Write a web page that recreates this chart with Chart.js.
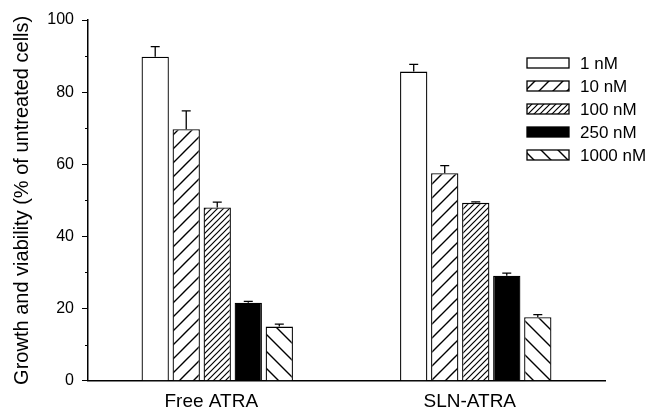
<!DOCTYPE html>
<html>
<head>
<meta charset="utf-8">
<script src="https://cdn.jsdelivr.net/npm/chart.js@4.4.1/dist/chart.umd.min.js"></script>
<style>
  html, body { margin: 0; padding: 0; background: #fff; }
  #c { display: block; }
</style>
</head>
<body>
<canvas id="c" width="651" height="410"></canvas>
<script>
// Growth and viability after ATRA treatment, free drug vs. SLN formulation
const categories = ['Free ATRA', 'SLN-ATRA'];
const doseLabels = ['1 nM', '10 nM', '100 nM', '250 nM', '1000 nM'];

const dose1 = [89.8, 85.7];
const dose10 = [69.7, 57.5];
const dose100 = [48.0, 49.3];
const dose250 = [21.6, 29.1];
const dose1000 = [15.0, 17.6];

// upper error (SD) for each bar
const err1 = [2.8, 2.0];
const err10 = [5.1, 2.1];
const err100 = [1.5, 0.3];
const err250 = [0.4, 0.7];
const err1000 = [0.7, 0.7];

const yMajorTicks = [0, 20, 40, 60, 80, 100];
const yMinorTicks = [10, 30, 50, 70, 90];

const FONT = '"Liberation Sans", Arial, Helvetica, sans-serif';

// diagonal hatch fill: dir = 1 for "/", -1 for "\"
function hatch(step, dir, lw) {
  const t = document.createElement('canvas');
  t.width = step; t.height = step;
  const g = t.getContext('2d');
  g.fillStyle = '#fff';
  g.fillRect(0, 0, step, step);
  g.strokeStyle = '#000';
  g.lineWidth = lw;
  g.beginPath();
  if (dir > 0) {
    g.moveTo(-step, step); g.lineTo(step, -step);
    g.moveTo(0, step * 2); g.lineTo(step * 2, 0);
    g.moveTo(0, step); g.lineTo(step, 0);
  } else {
    g.moveTo(-step, 0); g.lineTo(step, step * 2);
    g.moveTo(0, -step); g.lineTo(step * 2, step);
    g.moveTo(0, 0); g.lineTo(step, step);
  }
  g.stroke();
  return g.createPattern(t, 'repeat');
}

const fills = ['#ffffff', hatch(14, 1, 1.4), hatch(6, 1, 1.2), '#000000', hatch(17, -1, 1.4)];
const values = [dose1, dose10, dose100, dose250, dose1000];
const errors = [err1, err10, err100, err250, err1000];

const datasets = doseLabels.map((lab, i) => ({
  label: lab,
  data: values[i],
  err: errors[i],
  backgroundColor: fills[i],
  borderColor: '#000',
  borderWidth: 1.3,
  categoryPercentage: 0.6,
  barPercentage: 0.88
}));

// upward-only error bars with a short cap
const errorBars = {
  id: 'errorBars',
  afterDatasetsDraw(chart) {
    const ctx = chart.ctx;
    const ys = chart.scales.y;
    ctx.save();
    ctx.strokeStyle = '#000';
    ctx.lineWidth = 1.3;
    chart.data.datasets.forEach((ds, di) => {
      const meta = chart.getDatasetMeta(di);
      meta.data.forEach((bar, j) => {
        const top = ys.getPixelForValue(ds.data[j] + ds.err[j]);
        ctx.beginPath();
        ctx.moveTo(bar.x, bar.y);
        ctx.lineTo(bar.x, top);
        ctx.moveTo(bar.x - 4.5, top);
        ctx.lineTo(bar.x + 4.5, top);
        ctx.stroke();
      });
    });
    ctx.restore();
  }
};

// short minor ticks on the value axis
const minorTicks = {
  id: 'minorTicks',
  afterDraw(chart) {
    const ctx = chart.ctx;
    const ys = chart.scales.y;
    const x0 = chart.chartArea.left;
    ctx.save();
    ctx.strokeStyle = '#000';
    ctx.lineWidth = 1;
    yMinorTicks.forEach(v => {
      const y = Math.round(ys.getPixelForValue(v)) + 0.5;
      ctx.beginPath();
      ctx.moveTo(x0 - 3, y);
      ctx.lineTo(x0, y);
      ctx.stroke();
    });
    ctx.restore();
  }
};

// legend inside the plot, upper right
const insideLegend = {
  id: 'insideLegend',
  afterDraw(chart) {
    const ctx = chart.ctx;
    const area = chart.chartArea;
    const bx = area.right - 78, by = area.top + 38;
    const bw = 42, bh = 10, step = 23;
    ctx.save();
    ctx.font = '17px ' + FONT;
    ctx.textBaseline = 'middle';
    ctx.textAlign = 'left';
    chart.data.datasets.forEach((ds, i) => {
      const y = by + i * step;
      ctx.fillStyle = ds.backgroundColor;
      ctx.fillRect(bx, y, bw, bh);
      ctx.strokeStyle = '#000';
      ctx.lineWidth = 1.3;
      ctx.strokeRect(bx, y, bw, bh);
      ctx.fillStyle = '#000';
      ctx.fillText(ds.label, bx + bw + 11, y + bh / 2 + 1);
    });
    ctx.restore();
  }
};

new Chart(document.getElementById('c'), {
  type: 'bar',
  data: { labels: categories, datasets },
  plugins: [errorBars, minorTicks, insideLegend],
  options: {
    responsive: false,
    animation: false,
    devicePixelRatio: 1,
    layout: { padding: { top: 20, right: 46, left: 0, bottom: 0 } },
    plugins: { legend: { display: false }, tooltip: { enabled: false } },
    scales: {
      x: {
        grid: { display: false },
        border: { display: true, color: '#000', width: 1.5 },
        ticks: { color: '#000', font: { family: FONT, size: 19 }, padding: 2, labelOffset: -6 },
        afterFit(s) { s.height = 29.3; }
      },
      y: {
        min: 0,
        max: 100,
        afterBuildTicks(s) { s.ticks = yMajorTicks.map(v => ({ value: v })); },
        grid: { display: true, drawOnChartArea: false, drawTicks: true, tickLength: 6, color: '#000', lineWidth: 1 },
        border: { display: true, color: '#000', width: 1.5 },
        ticks: { color: '#000', font: { family: FONT, size: 16 }, padding: 8 },
        title: {
          display: true,
          text: 'Growth and viability (% of untreated cells)',
          color: '#000',
          font: { family: FONT, size: 20 },
          padding: { top: 10, bottom: 0 }
        },
        afterFit(s) { s.width = 88; }
      }
    }
  }
});
</script>
</body>
</html>
